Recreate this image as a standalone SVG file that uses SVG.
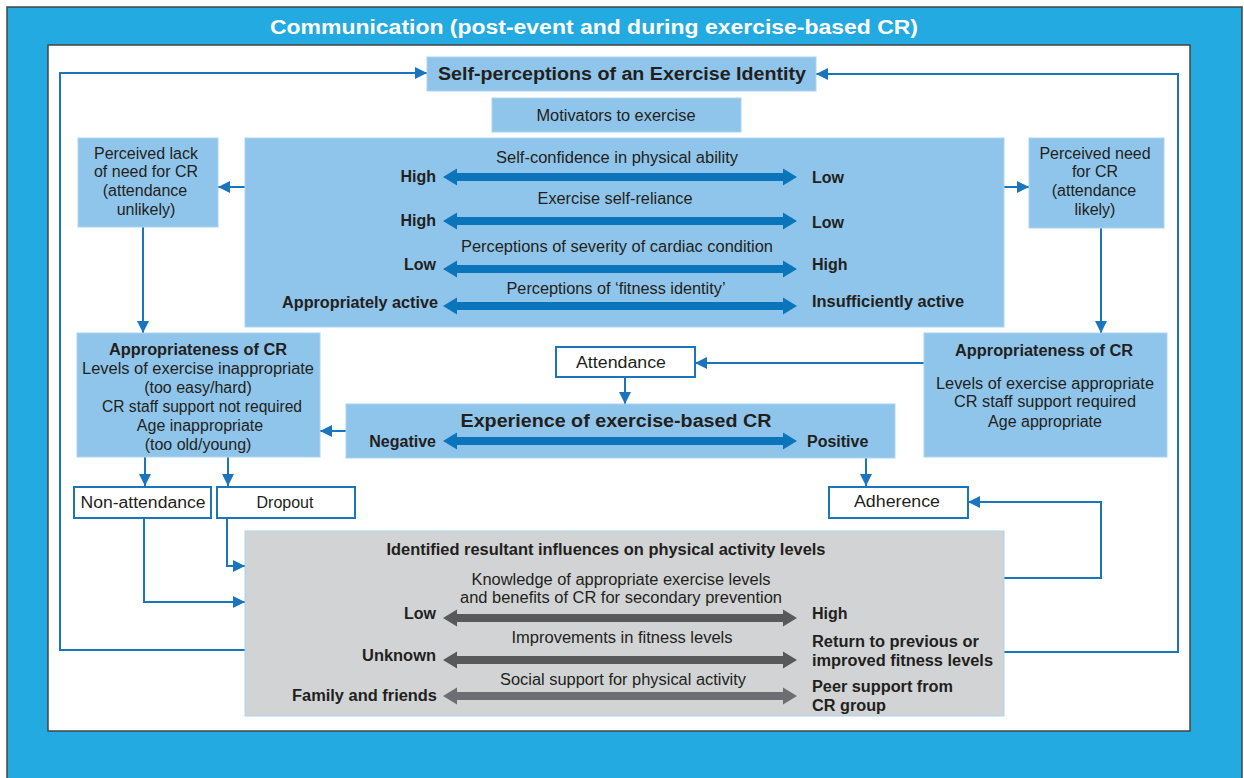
<svg xmlns="http://www.w3.org/2000/svg" width="1244" height="778" viewBox="0 0 1244 778">
<style>
text{font-family:"Liberation Sans",Arial,sans-serif;fill:#231f20;font-size:16px}
.b{font-weight:bold}
.c{text-anchor:middle}
.r{text-anchor:end}
.box{fill:#8fc5ea;stroke:#a9d5f1;stroke-width:1}
.wbox{fill:#ffffff;stroke:#1b75bc;stroke-width:2}
.conn{fill:none;stroke:#1b75bc;stroke-width:2}
</style>
<defs>
<marker id="ah" viewBox="0 0 10 10" refX="10" refY="5" markerWidth="12" markerHeight="13" markerUnits="userSpaceOnUse" orient="auto">
<path d="M0,0 L10,5 L0,10 z" fill="#1b75bc"/>
</marker>
<path id="dbl" d="M0,0 L14,-8.5 L14,-4 L340,-4 L340,-8.5 L354,0 L340,8.5 L340,4 L14,4 L14,8.5 Z"/>
</defs>
<rect x="7" y="7" width="1235" height="780" fill="#22aae1" stroke="#444" stroke-width="1.5"/>
<text class="b c" x="594" y="34" style="fill:#fff;font-size:20px" textLength="648" lengthAdjust="spacingAndGlyphs">Communication (post-event and during exercise-based CR)</text>
<rect x="48" y="45" width="1142" height="686" fill="#fff" stroke="#444" stroke-width="1.5"/>

<g id="connectors">
<path class="conn" d="M245,650 H60 V73 H427" marker-end="url(#ah)"/>
<path class="conn" d="M1004,652 H1178 V74 H816" marker-end="url(#ah)"/>
<path class="conn" d="M245,187 H218" marker-end="url(#ah)"/>
<path class="conn" d="M1004,187 H1029" marker-end="url(#ah)"/>
<path class="conn" d="M143,227 V333" marker-end="url(#ah)"/>
<path class="conn" d="M1101,228 V333" marker-end="url(#ah)"/>
<path class="conn" d="M924,363 H695" marker-end="url(#ah)"/>
<path class="conn" d="M625,377 V404" marker-end="url(#ah)"/>
<path class="conn" d="M346,431 H320" marker-end="url(#ah)"/>
<path class="conn" d="M145,457 V486" marker-end="url(#ah)"/>
<path class="conn" d="M228,457 V486" marker-end="url(#ah)"/>
<path class="conn" d="M866,458 V486" marker-end="url(#ah)"/>
<path class="conn" d="M227,518 V566 H245" marker-end="url(#ah)"/>
<path class="conn" d="M144,518 V602 H245" marker-end="url(#ah)"/>
<path class="conn" d="M1004,578 H1101 V502 H968" marker-end="url(#ah)"/>
</g>

<g id="self-perceptions">
<rect class="box" x="427" y="57" width="389" height="34"/>
<text class="b c" x="622" y="80" style="font-size:18px" textLength="368" lengthAdjust="spacingAndGlyphs">Self-perceptions of an Exercise Identity</text>
</g>

<g id="motivators">
<rect class="box" x="492" y="98" width="249" height="34"/>
<text class="c" x="616" y="121" textLength="159" lengthAdjust="spacingAndGlyphs">Motivators to exercise</text>
</g>

<g id="motivators-scales">
<rect class="box" x="245" y="138" width="759" height="189"/>
<text class="c" x="617" y="163" textLength="242" lengthAdjust="spacingAndGlyphs">Self-confidence in physical ability</text>
<text class="b r" x="436" y="182">High</text>
<use href="#dbl" x="443" y="177" fill="#0b75bb"/>
<text class="b" x="812" y="183">Low</text>
<text class="c" x="615" y="204" textLength="155" lengthAdjust="spacingAndGlyphs">Exercise self-reliance</text>
<text class="b r" x="436" y="226">High</text>
<use href="#dbl" x="443" y="221" fill="#0b75bb"/>
<text class="b" x="812" y="228">Low</text>
<text class="c" x="617" y="252" textLength="312" lengthAdjust="spacingAndGlyphs">Perceptions of severity of cardiac condition</text>
<text class="b r" x="436" y="270">Low</text>
<use href="#dbl" x="443" y="269" fill="#0b75bb"/>
<text class="b" x="812" y="270">High</text>
<text class="c" x="616" y="294" textLength="219" lengthAdjust="spacingAndGlyphs">Perceptions of ‘fitness identity’</text>
<text class="b r" x="438" y="308" textLength="156" lengthAdjust="spacingAndGlyphs">Appropriately active</text>
<use href="#dbl" x="443" y="306" fill="#0b75bb"/>
<text class="b" x="812" y="307" textLength="152" lengthAdjust="spacingAndGlyphs">Insufficiently active</text>
</g>

<g id="lack-of-need">
<rect class="box" x="78" y="138" width="140" height="89"/>
<text class="c" x="146" y="159">Perceived lack</text>
<text class="c" x="146" y="177">of need for CR</text>
<text class="c" x="145" y="196">(attendance</text>
<text class="c" x="146" y="215">unlikely)</text>
</g>

<g id="need">
<rect class="box" x="1029" y="138" width="135" height="90"/>
<text class="c" x="1095" y="159">Perceived need</text>
<text class="c" x="1095" y="177">for CR</text>
<text class="c" x="1094" y="196">(attendance</text>
<text class="c" x="1095" y="215">likely)</text>
</g>

<g id="appropriateness-left">
<rect class="box" x="77" y="333" width="243" height="124"/>
<text class="b c" x="198" y="355" textLength="178" lengthAdjust="spacingAndGlyphs">Appropriateness of CR</text>
<text class="c" x="198" y="374" textLength="232" lengthAdjust="spacingAndGlyphs">Levels of exercise inappropriate</text>
<text class="c" x="198" y="393">(too easy/hard)</text>
<text class="c" x="202" y="412" textLength="200" lengthAdjust="spacingAndGlyphs">CR staff support not required</text>
<text class="c" x="200" y="431">Age inappropriate</text>
<text class="c" x="198" y="450">(too old/young)</text>
</g>

<g id="appropriateness-right">
<rect class="box" x="924" y="333" width="243" height="124"/>
<text class="b c" x="1044" y="356" textLength="178" lengthAdjust="spacingAndGlyphs">Appropriateness of CR</text>
<text class="c" x="1045" y="389" textLength="218" lengthAdjust="spacingAndGlyphs">Levels of exercise appropriate</text>
<text class="c" x="1045" y="407" textLength="182" lengthAdjust="spacingAndGlyphs">CR staff support required</text>
<text class="c" x="1045" y="427">Age appropriate</text>
</g>

<g id="attendance">
<rect class="wbox" x="556" y="347" width="139" height="30"/>
<text class="c" x="621" y="368" textLength="90" lengthAdjust="spacingAndGlyphs">Attendance</text>
</g>

<g id="experience">
<rect class="box" x="346" y="404" width="549" height="54"/>
<text class="b c" x="616" y="427" style="font-size:18px" textLength="311" lengthAdjust="spacingAndGlyphs">Experience of exercise-based CR</text>
<text class="b r" x="436" y="447">Negative</text>
<use href="#dbl" x="443" y="441" fill="#0b75bb"/>
<text class="b" x="807" y="447">Positive</text>
</g>

<g id="non-attendance">
<rect class="wbox" x="74" y="487" width="137" height="31"/>
<text class="c" x="143" y="508" textLength="125" lengthAdjust="spacingAndGlyphs">Non-attendance</text>
</g>

<g id="dropout">
<rect class="wbox" x="217" y="487" width="138" height="31"/>
<text class="c" x="285" y="508">Dropout</text>
</g>

<g id="adherence">
<rect class="wbox" x="829" y="487" width="139" height="31"/>
<text class="c" x="897" y="507" textLength="86" lengthAdjust="spacingAndGlyphs">Adherence</text>
</g>

<g id="influences">
<rect x="245" y="531" width="759" height="185" fill="#d1d3d4" stroke="#a9d5f1" stroke-width="1"/>
<text class="b c" x="606" y="555" textLength="439" lengthAdjust="spacingAndGlyphs">Identified resultant influences on physical activity levels</text>
<text class="c" x="621" y="585" textLength="299" lengthAdjust="spacingAndGlyphs">Knowledge of appropriate exercise levels</text>
<text class="c" x="621" y="603" textLength="322" lengthAdjust="spacingAndGlyphs">and benefits of CR for secondary prevention</text>
<text class="b r" x="436" y="619">Low</text>
<use href="#dbl" x="443" y="618" fill="#58595b"/>
<text class="b" x="812" y="619">High</text>
<text class="c" x="622" y="643" textLength="221" lengthAdjust="spacingAndGlyphs">Improvements in fitness levels</text>
<text class="b r" x="436" y="661" textLength="74" lengthAdjust="spacingAndGlyphs">Unknown</text>
<use href="#dbl" x="443" y="660" fill="#58595b"/>
<text class="b" x="812" y="647" textLength="167" lengthAdjust="spacingAndGlyphs">Return to previous or</text>
<text class="b" x="812" y="666" textLength="181" lengthAdjust="spacingAndGlyphs">improved fitness levels</text>
<text class="c" x="623" y="685" textLength="246" lengthAdjust="spacingAndGlyphs">Social support for physical activity</text>
<text class="b r" x="437" y="701" textLength="145" lengthAdjust="spacingAndGlyphs">Family and friends</text>
<use href="#dbl" x="443" y="696" fill="#6d6e71"/>
<text class="b" x="812" y="692" textLength="141" lengthAdjust="spacingAndGlyphs">Peer support from</text>
<text class="b" x="812" y="711" textLength="74" lengthAdjust="spacingAndGlyphs">CR group</text>
</g>
</svg>
